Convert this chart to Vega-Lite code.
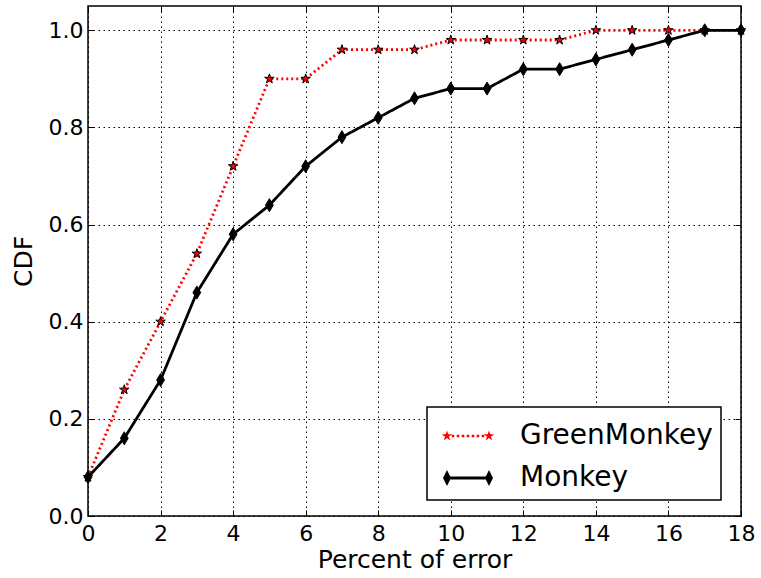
{
  "$schema": "https://vega.github.io/schema/vega-lite/v6.json",
  "width": 653,
  "height": 510,
  "autosize": {"type": "none"},
  "padding": {"left": 88, "top": 6, "right": 20, "bottom": 62},
  "background": "white",
  "config": {
    "font": "DejaVu Sans",
    "view": {"stroke": "black", "strokeWidth": 1.5},
    "axis": {
      "labelColor": "black",
      "titleColor": "black",
      "titleFontWeight": "normal",
      "labelFont": "DejaVu Sans",
      "titleFont": "DejaVu Sans",
      "tickColor": "black",
      "tickWidth": 1,
      "domain": false
    },
    "legend": {"labelFont": "DejaVu Sans"}
  },
  "data": {
    "values": [
      {"error": 0, "cdf": 0.08, "series": "GreenMonkey"},
      {"error": 1, "cdf": 0.26, "series": "GreenMonkey"},
      {"error": 2, "cdf": 0.40, "series": "GreenMonkey"},
      {"error": 3, "cdf": 0.54, "series": "GreenMonkey"},
      {"error": 4, "cdf": 0.72, "series": "GreenMonkey"},
      {"error": 5, "cdf": 0.90, "series": "GreenMonkey"},
      {"error": 6, "cdf": 0.90, "series": "GreenMonkey"},
      {"error": 7, "cdf": 0.96, "series": "GreenMonkey"},
      {"error": 8, "cdf": 0.96, "series": "GreenMonkey"},
      {"error": 9, "cdf": 0.96, "series": "GreenMonkey"},
      {"error": 10, "cdf": 0.98, "series": "GreenMonkey"},
      {"error": 11, "cdf": 0.98, "series": "GreenMonkey"},
      {"error": 12, "cdf": 0.98, "series": "GreenMonkey"},
      {"error": 13, "cdf": 0.98, "series": "GreenMonkey"},
      {"error": 14, "cdf": 1.0, "series": "GreenMonkey"},
      {"error": 15, "cdf": 1.0, "series": "GreenMonkey"},
      {"error": 16, "cdf": 1.0, "series": "GreenMonkey"},
      {"error": 17, "cdf": 1.0, "series": "GreenMonkey"},
      {"error": 18, "cdf": 1.0, "series": "GreenMonkey"},
      {"error": 0, "cdf": 0.08, "series": "Monkey"},
      {"error": 1, "cdf": 0.16, "series": "Monkey"},
      {"error": 2, "cdf": 0.28, "series": "Monkey"},
      {"error": 3, "cdf": 0.46, "series": "Monkey"},
      {"error": 4, "cdf": 0.58, "series": "Monkey"},
      {"error": 5, "cdf": 0.64, "series": "Monkey"},
      {"error": 6, "cdf": 0.72, "series": "Monkey"},
      {"error": 7, "cdf": 0.78, "series": "Monkey"},
      {"error": 8, "cdf": 0.82, "series": "Monkey"},
      {"error": 9, "cdf": 0.86, "series": "Monkey"},
      {"error": 10, "cdf": 0.88, "series": "Monkey"},
      {"error": 11, "cdf": 0.88, "series": "Monkey"},
      {"error": 12, "cdf": 0.92, "series": "Monkey"},
      {"error": 13, "cdf": 0.92, "series": "Monkey"},
      {"error": 14, "cdf": 0.94, "series": "Monkey"},
      {"error": 15, "cdf": 0.96, "series": "Monkey"},
      {"error": 16, "cdf": 0.98, "series": "Monkey"},
      {"error": 17, "cdf": 1.0, "series": "Monkey"},
      {"error": 18, "cdf": 1.0, "series": "Monkey"}
    ]
  },
  "resolve": {"axis": {"x": "independent", "y": "independent"}},
  "layer": [
    {
      "mark": {"type": "line", "strokeWidth": 2.8, "clip": false},
      "encoding": {
        "x": {
          "field": "error", "type": "quantitative",
          "scale": {"domain": [0, 18], "nice": false, "zero": false},
          "axis": {
            "title": "Percent of error", "titleFontSize": 25, "titlePadding": 3,
            "values": [0, 2, 4, 6, 8, 10, 12, 14, 16, 18], "format": "d",
            "labelFontSize": 22, "labelFlush": false, "labelPadding": 13, "tickSize": -6,
            "grid": true, "gridColor": "black", "gridDash": [1.5, 3.5], "gridWidth": 1, "gridOpacity": 1
          }
        },
        "y": {
          "field": "cdf", "type": "quantitative",
          "scale": {"domain": [0, 1.05], "nice": false},
          "axis": {
            "title": "CDF", "titleFontSize": 25, "titlePadding": 12,
            "values": [0, 0.2, 0.4, 0.6, 0.8, 1.0], "format": ".1f",
            "labelFontSize": 22, "labelFlush": false, "labelPadding": 11, "tickSize": -6,
            "grid": true, "gridColor": "black", "gridDash": [1.5, 3.5], "gridWidth": 1, "gridOpacity": 1
          }
        },
        "color": {
          "field": "series", "type": "nominal",
          "scale": {"domain": ["GreenMonkey", "Monkey"], "range": ["red", "black"]},
          "legend": {
            "title": null,
            "orient": "none",
            "legendX": 339,
            "legendY": 401,
            "labelFontSize": 28,
            "labelColor": "black",
            "labelLimit": 400,
            "labelOffset": 31,
            "symbolOffset": 12,
            "symbolSize": 1764,
            "padding": 8,
            "rowPadding": 7,
            "fillColor": "white",
            "strokeColor": "black",
            "encode": {
              "legend": {"update": {"strokeWidth": {"value": 1.5}}},
              "symbols": {
                "update": {
                  "shape": {"signal": "datum.value === 'GreenMonkey' ? 'M-0.774,-0.06L-0.654,-0.06L-0.654,0.06L-0.774,0.06Z M-0.536,-0.06L-0.416,-0.06L-0.416,0.06L-0.536,0.06Z M-0.298,-0.06L-0.178,-0.06L-0.178,0.06L-0.298,0.06Z M-0.06,-0.06L0.06,-0.06L0.06,0.06L-0.06,0.06Z M0.178,-0.06L0.298,-0.06L0.298,0.06L0.178,0.06Z M0.416,-0.06L0.536,-0.06L0.536,0.06L0.416,0.06Z M0.654,-0.06L0.774,-0.06L0.774,0.06L0.654,0.06Z M-1,-0.26L-0.9415,-0.0803L-0.753,-0.0803L-0.9056,0.0307L-0.847,0.21L-1,0.0993L-1.153,0.21L-1.0944,0.0307L-1.247,-0.0803L-1.0585,-0.0803Z M1,-0.26L1.0585,-0.0803L1.247,-0.0803L1.0944,0.0307L1.153,0.21L1,0.0993L0.847,0.21L0.9056,0.0307L0.753,-0.0803L0.9415,-0.0803Z' : 'M-1,-0.07L1,-0.07L1,0.07L-1,0.07Z M-1,-0.38L-0.81,0L-1,0.38L-1.19,0Z M1,-0.38L1.19,0L1,0.38L0.81,0Z'"},
                  "fill": {"signal": "datum.value === 'GreenMonkey' ? 'red' : 'black'"},
                  "fillOpacity": {"value": 1},
                  "stroke": {"value": "transparent"},
                  "strokeWidth": {"value": 0},
                  "size": {"value": 1764},
                  "opacity": {"value": 1}
                }
              }
            }
          }
        },
        "strokeDash": {
          "field": "series", "type": "nominal",
          "scale": {"domain": ["GreenMonkey", "Monkey"], "range": [[2, 3], [1, 0]]},
          "legend": null
        }
      }
    },
    {
      "transform": [{"filter": "datum.series === 'GreenMonkey'"}],
      "mark": {"type": "point", "filled": true, "fill": "red", "stroke": "black", "strokeWidth": 1, "opacity": 1, "size": 169, "clip": false,
               "shape": "M0,-0.77L0.173,-0.238L0.732,-0.238L0.28,0.091L0.453,0.623L0,0.294L-0.453,0.623L-0.28,0.091L-0.732,-0.238L-0.173,-0.238Z"},
      "encoding": {
        "x": {
          "field": "error", "type": "quantitative",
          "axis": {"orient": "top", "labels": false, "title": null, "grid": false, "tickSize": -6, "values": [0, 2, 4, 6, 8, 10, 12, 14, 16, 18]}
        },
        "y": {
          "field": "cdf", "type": "quantitative",
          "axis": {"orient": "right", "labels": false, "title": null, "grid": false, "tickSize": -6, "values": [0, 0.2, 0.4, 0.6, 0.8, 1.0]}
        }
      }
    },
    {
      "transform": [{"filter": "datum.series === 'Monkey'"}],
      "mark": {"type": "point", "filled": true, "fill": "black", "stroke": "black", "strokeWidth": 1, "opacity": 1, "size": 169, "clip": false,
               "shape": "M0,-1L0.6,0L0,1L-0.6,0Z"},
      "encoding": {
        "x": {"field": "error", "type": "quantitative", "axis": null},
        "y": {"field": "cdf", "type": "quantitative", "axis": null}
      }
    }
  ]
}
